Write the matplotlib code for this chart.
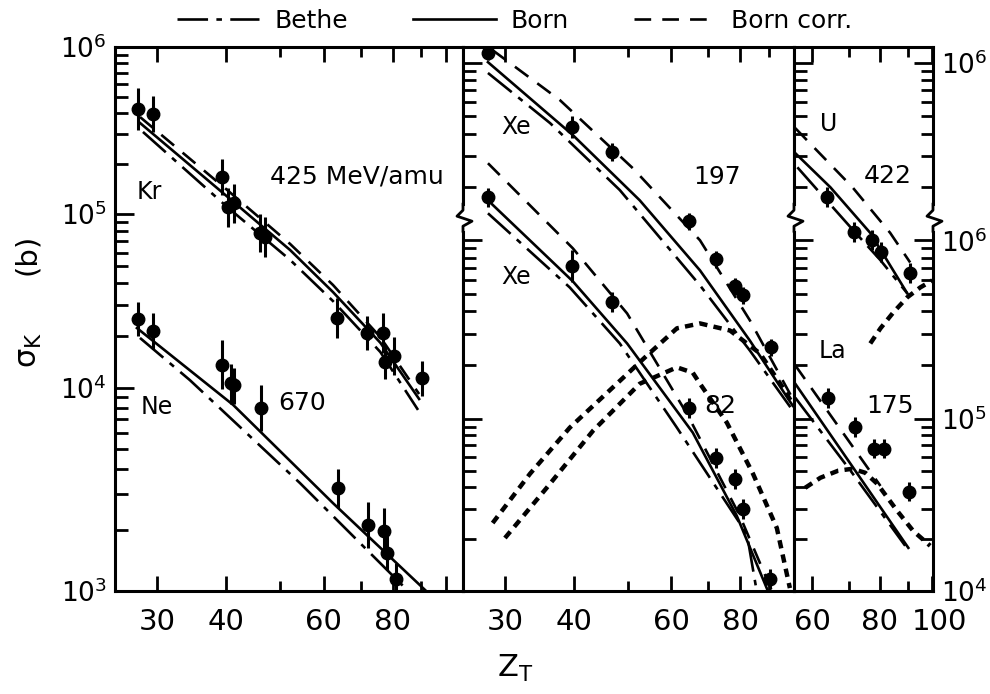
import numpy as np
import matplotlib
matplotlib.use("Agg")
import matplotlib.pyplot as plt
from matplotlib.lines import Line2D
from matplotlib.ticker import FixedLocator, NullFormatter
from matplotlib.transforms import ScaledTranslation

plt.rcParams['font.family'] = ['DejaVu Sans']
plt.rcParams['mathtext.default'] = 'regular'
plt.rcParams['lines.scale_dashes'] = False
plt.rcParams['axes.linewidth'] = 2.2

# upper sets (Xe 197, U 422) are drawn one decade up, read against the upper "10^6" label
SHIFT = 10.0

# ---- left panel: Kr 425 MeV/amu, Ne 670 MeV/amu
kr_z = [27.7, 29.5, 39.3, 40.3, 41.3, 46.0, 47.0, 63.5, 71.8, 76.9, 77.5, 80.6, 90.4]
kr_sig = [4.26e5, 3.97e5, 1.67e5, 1.10e5, 1.16e5, 7.78e4, 7.38e4, 2.52e4, 2.07e4, 2.07e4, 1.41e4, 1.53e4, 1.14e4]
kr_err = [0.33, 0.28, 0.28, 0.30, 0.30, 0.28, 0.30, 0.30, 0.25, 0.30, 0.25, 0.28, 0.25]
kr_born_z = [27.95, 40.2, 52.2, 62.4, 76.0, 89.3]
kr_born = [3.51e5, 1.27e5, 6.21e4, 3.56e4, 1.82e4, 8.83e3]
kr_corr_z = [27.95, 40.2, 52.2, 62.4, 76.0, 89.3]
kr_corr = [3.81e5, 1.39e5, 6.73e4, 3.91e4, 1.96e4, 9.34e3]
kr_bethe_z = [28.3, 40.2, 52.2, 62.4, 76.0, 88.9]
kr_bethe = [3.10e5, 1.10e5, 5.45e4, 3.16e4, 1.61e4, 7.80e3]

ne_z = [27.7, 29.5, 39.3, 40.9, 41.3, 46.2, 63.8, 72.1, 77.2, 78.2, 81.0]
ne_sig = [2.49e4, 2.13e4, 1.36e4, 1.07e4, 1.04e4, 7.97e3, 3.21e3, 2.11e3, 1.98e3, 1.54e3, 1.15e3]
ne_err = [0.25, 0.27, 0.38, 0.28, 0.25, 0.30, 0.25, 0.30, 0.30, 0.22, 0.20]
ne_born_z = [27.6, 41.2, 62.4, 91.6]
ne_born = [2.21e4, 8.25e3, 2.71e3, 1.01e3]
ne_bethe_z = [27.95, 34.4, 54.4, 85.0]
ne_bethe = [1.94e4, 1.11e4, 3.40e3, 1.01e3]

# ---- middle panel: Xe 197 (upper scale) and Xe 82 MeV/amu
xe197_z = [28.0, 39.7, 46.9, 64.5, 72.3, 78.3, 81.0, 91.0]
xe197_sig = [1.14e6, 4.35e5, 3.14e5, 1.28e5, 7.82e4, 5.52e4, 4.91e4, 2.51e4]
xe197_err = [0.10, 0.15, 0.12, 0.12, 0.12, 0.12, 0.12, 0.12]
xe197_born_z = [27.95, 39.8, 52.6, 67.6, 83.2, 99.5]
xe197_born = [1.01e6, 3.92e5, 1.68e5, 6.78e4, 2.74e4, 1.18e4]
xe197_corr_z = [28.5, 37.7, 51.1, 67.6, 83.2, 99.5]
xe197_corr = [1.18e6, 6.18e5, 2.55e5, 1.00e5, 3.56e4, 1.29e4]
xe197_bethe_z = [27.95, 36.2, 48.4, 67.6, 83.2, 99.5]
xe197_bethe = [8.78e5, 4.58e5, 1.92e5, 5.59e4, 2.41e4, 1.11e4]
xe197_bold_z = [28.5, 33.3, 39.3, 47.8, 54.2, 61.4, 67.6, 76.6, 86.8, 95.5, 99.5]
xe197_bold = [2.48e3, 4.79e3, 8.87e3, 1.57e4, 2.26e4, 3.21e4, 3.42e4, 3.12e4, 2.32e4, 1.49e4, 1.21e4]

xe82_z = [28.0, 39.7, 46.9, 64.5, 72.3, 78.3, 81.0, 90.6]
xe82_sig = [1.75e6, 7.15e5, 4.49e5, 1.15e5, 5.93e4, 4.48e4, 3.00e4, 1.17e4]
xe82_err = [0.13, 0.23, 0.14, 0.14, 0.14, 0.14, 0.14, 0.14]
xe82_born_z = [27.95, 39.8, 49.9, 65.6, 78.8, 89.7]
xe82_born = [1.68e6, 5.89e5, 2.64e5, 8.30e4, 2.73e4, 1.0e4]
xe82_corr_z = [27.95, 39.8, 49.9, 64.3, 79.8, 91.2]
xe82_corr = [2.72e6, 9.02e5, 3.89e5, 1.04e5, 2.73e4, 1.0e4]
xe82_bethe_z = [27.95, 39.3, 48.4, 61.4, 82.2, 85.6]
xe82_bethe = [1.42e6, 5.44e5, 2.64e5, 8.87e4, 2.14e4, 1.0e4]
xe82_bold_z = [30.0, 35.7, 43.3, 52.6, 61.4, 65.6, 67.6, 75.6, 84.3, 93.1, 98.3]
xe82_bold = [2.03e4, 3.97e4, 8.51e4, 1.57e5, 1.94e5, 1.81e5, 1.57e5, 9.48e4, 4.79e4, 2.32e4, 1.04e4]

# ---- right panel: U 422 (upper scale) and La 175 MeV/amu
u_z = [64.0, 71.8, 77.5, 80.5, 91.0]
u_sig = [1.75e5, 1.11e5, 1.00e5, 8.57e4, 6.53e4]
u_err = [0.14, 0.14, 0.14, 0.14, 0.14]
u_born_z = [55.8, 64.8, 76.8, 89.9]
u_born = [3.10e5, 1.99e5, 1.10e5, 5.04e4]
u_corr_z = [55.8, 71.2, 83.6, 91.0]
u_corr = [4.29e5, 1.99e5, 1.10e5, 7.51e4]
u_bethe_z = [56.3, 62.1, 71.4, 80.2, 89.9]
u_bethe = [2.58e5, 1.84e5, 1.14e5, 7.73e4, 5.04e4]
u_bold_z = [76.8, 80.2, 84.7, 89.9, 95.0, 100.0]
u_bold = [2.64e4, 3.21e4, 3.94e4, 4.79e4, 5.44e4, 5.96e4]

la_z = [64.2, 72.0, 78.0, 81.5, 90.6]
la_sig = [1.31e5, 8.98e4, 6.70e4, 6.70e4, 3.77e4]
la_err = [0.14, 0.14, 0.14, 0.14, 0.14]
la_born_z = [55.8, 70.6, 90.3]
la_born = [1.57e5, 5.47e4, 1.78e4]
la_corr_z = [55.8, 70.0, 80.2]
la_corr = [1.99e5, 7.45e4, 4.07e4]
la_bethe_z = [55.8, 70.6, 89.1]
la_bethe = [1.31e5, 4.99e4, 1.83e4]
la_bold_z = [58.2, 62.1, 67.0, 71.2, 75.2, 79.1, 86.1, 92.2, 99.1]
la_bold = [3.97e4, 4.54e4, 4.99e4, 5.12e4, 4.85e4, 4.19e4, 2.92e4, 2.23e4, 1.83e4]

BORN = dict(color='k', lw=1.9, ls='-')
CORR = dict(color='k', lw=1.9, ls=(0, (12, 8)))
BETHE = dict(color='k', lw=1.9, ls=(0, (22, 6, 4, 6)))
BOLD = dict(color='k', lw=3.2, ls=(0, (6, 4.5)))


def decade_scale(decades, lengths):
    # log axis whose decades are drawn with slightly unequal lengths, as in the original
    d = np.asarray(decades, float)
    p = np.asarray(lengths, float)
    d = np.concatenate([[d[0] - 5], d, [d[-1] + 5]])
    p = np.concatenate([[p[0] - 5 * (p[1] - p[0])], p, [p[-1] + 5 * (p[-1] - p[-2])]])

    def fwd(y):
        return np.interp(np.log10(np.clip(y, 1e-30, None)), d, p)

    def inv(q):
        return 10 ** np.interp(q, p, d)
    return fwd, inv


def log_ticks(ax, lo, hi):
    ax.yaxis.set_minor_locator(FixedLocator(
        [k * 10.0 ** e for e in range(lo, hi) for k in range(2, 10)]))


def curve(ax, z, s, style, shift=1.0):
    ax.plot(z, np.array(s) * shift, **style)


def points(ax, z, s, err, shift=1.0):
    s = np.array(s) * shift
    f = 1 + np.array(err)
    ax.errorbar(z, s, yerr=[s - s / f, s * f - s], fmt='o', color='k',
                ms=9, elinewidth=2.2, capsize=0, zorder=3)


def break_mark(ax, xa, yb):
    trans = ax.get_yaxis_transform()
    fwd = ax.yaxis.get_transform()
    y0, y1 = ax.get_ylim()
    ppu = ax.bbox.height / (fwd.transform([y1])[0] - fwd.transform([y0])[0])
    inv = fwd.inverted()
    base = fwd.transform([yb])[0]
    dx = np.array([0, 0, -6, 9, 0, 0]) / ax.bbox.width
    dy = np.array([13, 7, 1, -4, -9, -14]) / ppu
    ax.plot([xa, xa], inv.transform(base + np.array([8, -10]) / ppu), color='white',
            lw=5, transform=trans, clip_on=False, zorder=6)
    ax.plot(xa + dx, inv.transform(base + dy), color='k', lw=2, transform=trans,
            clip_on=False, zorder=7)


fig = plt.figure(figsize=(9.9, 6.94), dpi=100)
ax1 = fig.add_axes([115 / 990, 103 / 694, 348 / 990, 544 / 694])
ax2 = fig.add_axes([463 / 990, 103 / 694, 331 / 990, 544 / 694])
ax3 = fig.add_axes([794 / 990, 103 / 694, 139 / 990, 544 / 694])

ax1.set_yscale('function', functions=decade_scale([3, 4, 5, 6], [0, 203, 377, 544]))
ax1.set_ylim(1e3, 1e6)
log_ticks(ax1, 3, 6)
for ax in (ax2, ax3):
    ax.set_yscale('function', functions=decade_scale([4, 5, 6, 7], [0, 172, 350, 527]))
    ax.set_ylim(1e4, 1.23e7)
    log_ticks(ax, 4, 7)

for ax in (ax1, ax2, ax3):
    ax.set_xscale('log')
    ax.yaxis.set_minor_formatter(NullFormatter())
    ax.xaxis.set_minor_formatter(NullFormatter())
    ax.tick_params(which='both', direction='in', width=2)
    ax.tick_params(axis='x', which='both', top=True, bottom=True, pad=12, labelsize=21)
    ax.tick_params(axis='x', which='major', length=11)
    ax.tick_params(axis='x', which='minor', length=7)
    ax.tick_params(axis='y', which='major', length=14, pad=6, labelsize=19)
    ax.tick_params(axis='y', which='minor', length=9)

ax1.set_xlim(25.19, 107.2)
ax2.set_xlim(25.19, 99.6)
ax3.set_xlim(55.5, 100.3)

for ax in (ax1, ax2):
    ax.set_xticks([30, 40, 60, 80, 100], labels=['30', '40', '60', '80', ''])
    ax.set_xticks([50, 70, 90], minor=True)
ax3.set_xticks([60, 80, 100], labels=['60', '80', '100'])
ax3.set_xticks([70, 90], minor=True)
lbl = ax3.get_xticklabels()[2]
lbl.set_transform(lbl.get_transform() + ScaledTranslation(5 / 72, 0, fig.dpi_scale_trans))

ax1.set_yticks([1e3, 1e4, 1e5, 1e6], labels=['$10^3$', '$10^4$', '$10^5$', '$10^6$'])
ax1.tick_params(axis='y', which='both', left=True, right=False)
ax2.set_yticks([1e4, 1e5, 1e6, 1e7], labels=[''] * 4)
ax2.tick_params(axis='y', which='both', left=True, right=False, labelleft=False)
ax3.set_yticks([1e4, 1e5, 1e6, 1e7], labels=['$10^4$', '$10^5$', '$10^6$', '$10^6$'])
ax3.tick_params(axis='y', which='both', left=True, right=True,
                labelleft=False, labelright=True)

# left panel
points(ax1, kr_z, kr_sig, kr_err)
curve(ax1, kr_born_z, kr_born, BORN)
curve(ax1, kr_corr_z, kr_corr, CORR)
curve(ax1, kr_bethe_z, kr_bethe, BETHE)
points(ax1, ne_z, ne_sig, ne_err)
curve(ax1, ne_born_z, ne_born, BORN)
curve(ax1, ne_bethe_z, ne_bethe, BETHE)
ax1.text(29.0, 1.36e5, 'Kr', fontsize=17, ha='center', va='center')
ax1.text(68.9, 1.67e5, '425 MeV/amu', fontsize=18, ha='center', va='center')
ax1.text(30.0, 8.06e3, 'Ne', fontsize=17, ha='center', va='center')
ax1.text(54.9, 8.44e3, '670', fontsize=18, ha='center', va='center')

# middle panel
points(ax2, xe197_z, xe197_sig, xe197_err, SHIFT)
curve(ax2, xe197_born_z, xe197_born, BORN, SHIFT)
curve(ax2, xe197_corr_z, xe197_corr, CORR, SHIFT)
curve(ax2, xe197_bethe_z, xe197_bethe, BETHE, SHIFT)
curve(ax2, xe197_bold_z, xe197_bold, BOLD, SHIFT)
points(ax2, xe82_z, xe82_sig, xe82_err)
curve(ax2, xe82_born_z, xe82_born, BORN)
curve(ax2, xe82_corr_z, xe82_corr, CORR)
curve(ax2, xe82_bethe_z, xe82_bethe, BETHE)
curve(ax2, xe82_bold_z, xe82_bold, BOLD)
ax2.text(31.4, 4.35e6, 'Xe', fontsize=17, ha='center', va='center')
ax2.text(72.5, 2.27e6, '197', fontsize=18, ha='center', va='center')
ax2.text(31.4, 6.19e5, 'Xe', fontsize=17, ha='center', va='center')
ax2.text(73.4, 1.18e5, '82', fontsize=18, ha='center', va='center')

# right panel
points(ax3, u_z, u_sig, u_err, SHIFT)
curve(ax3, u_born_z, u_born, BORN, SHIFT)
curve(ax3, u_corr_z, u_corr, CORR, SHIFT)
curve(ax3, u_bethe_z, u_bethe, BETHE, SHIFT)
curve(ax3, u_bold_z, u_bold, BOLD, SHIFT)
points(ax3, la_z, la_sig, la_err)
curve(ax3, la_born_z, la_born, BORN)
curve(ax3, la_corr_z, la_corr, CORR)
curve(ax3, la_bethe_z, la_bethe, BETHE)
curve(ax3, la_bold_z, la_bold, BOLD)
ax3.text(64.4, 4.52e6, 'U', fontsize=17, ha='center', va='center')
ax3.text(82.9, 2.30e6, '422', fontsize=18, ha='center', va='center')
ax3.text(65.5, 2.41e5, 'La', fontsize=17, ha='center', va='center')
ax3.text(83.5, 1.18e5, '175', fontsize=18, ha='center', va='center')

# axis breaks between the two scales of the middle and right panels
break_mark(ax2, 0.0, 1.35e6)
break_mark(ax3, 0.0, 1.35e6)
break_mark(ax3, 1.0, 1.35e6)

handles = [Line2D([], [], **BETHE), Line2D([], [], **BORN), Line2D([], [], **CORR)]
fig.legend(handles, ['Bethe', 'Born', 'Born corr.'], loc='upper center',
           bbox_to_anchor=(0.52, 1.02), ncol=3, frameon=False, fontsize=18,
           handlelength=3.3, handletextpad=0.6, columnspacing=2.6)

fig.text(0.027, 0.633, '(b)', rotation=90, fontsize=21, ha='center', va='center')
fig.text(0.030, 0.496, r'$\sigma_K$', rotation=90, fontsize=22, ha='center', va='center')
fig.text(0.52, 0.037, r'$Z_T$', fontsize=22, ha='center', va='center')

fig.savefig('out.png', dpi=100)
